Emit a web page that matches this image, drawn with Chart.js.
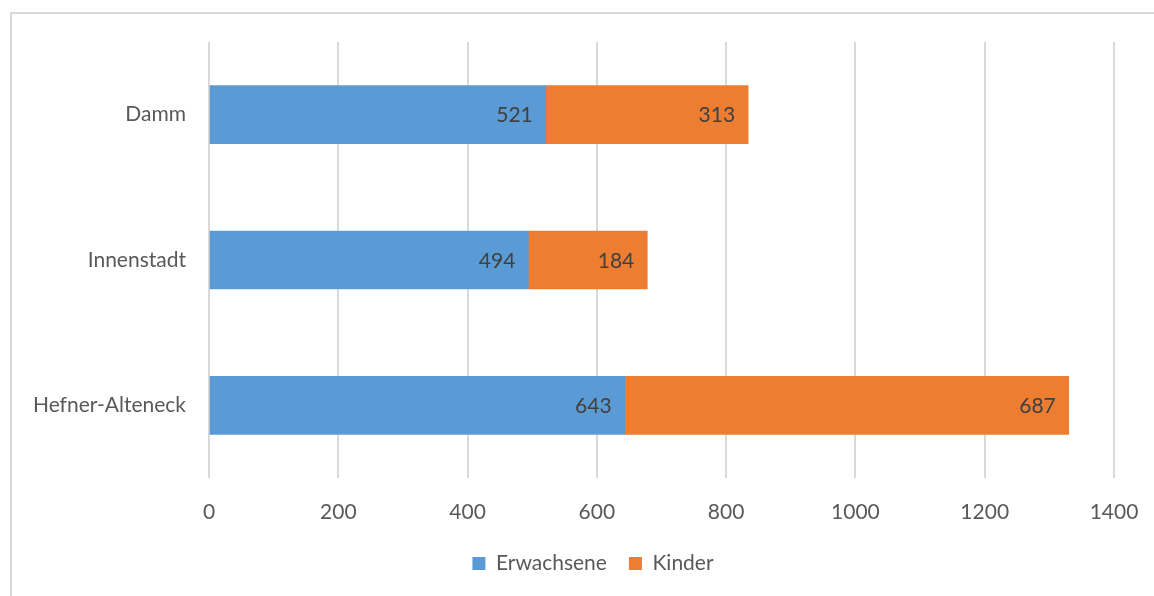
<!DOCTYPE html>
<html>
<head>
<meta charset="utf-8">
<script src="https://cdn.jsdelivr.net/npm/chart.js"></script>
<style>
  html, body { margin: 0; padding: 0; background: #fff; }
  #wrap { position: relative; width: 1154px; height: 596px; overflow: hidden; }
  #frame { position: absolute; left: 10px; top: 12px; width: 1160px; height: 600px;
           border-left: 2px solid #d9d9d9; border-top: 2px solid #d9d9d9; box-sizing: border-box; }
  canvas { position: absolute; left: 0; top: 0; }
</style>
</head>
<body>
<div id="wrap">
  <div id="frame"></div>
  <canvas id="Chart" width="1154" height="596"></canvas>
</div>
<script>
const categories = ['Damm', 'Innenstadt', 'Hefner-Alteneck'];
const erwachsene = [521, 494, 643];
const kinder = [313, 184, 687];
const xTicks = [0, 200, 400, 600, 800, 1000, 1200, 1400];

const FONT = 'Lato, "Open Sans", sans-serif';
const FSIZE = 21;

// Wertebeschriftungen innen am Balkenende
const barLabels = {
  id: 'barLabels',
  afterLayout(chart) {
    // Legende etwas nach rechts, wie im Original
    if (chart.legend) chart.legend.left = 72;
  },
  afterDatasetsDraw(chart) {
    const c = chart.ctx;
    c.save();
    c.font = FSIZE + 'px ' + FONT;
    c.fillStyle = '#404040';
    c.textAlign = 'right';
    c.textBaseline = 'middle';
    chart.data.datasets.forEach((ds, i) => {
      chart.getDatasetMeta(i).data.forEach((bar, j) => {
        c.fillText(String(ds.data[j]), bar.x - 13, bar.y + 1);
      });
    });
    c.restore();
  }
};

const ctx = document.getElementById('Chart').getContext('2d');
new Chart(ctx, {
  type: 'bar',
  data: {
    labels: categories,
    datasets: [
      { label: 'Erwachsene', data: erwachsene, backgroundColor: '#5B9BD5', barThickness: 58 },
      { label: 'Kinder', data: kinder, backgroundColor: '#ED7D31', barThickness: 58 }
    ]
  },
  options: {
    indexAxis: 'y',
    responsive: false,
    animation: false,
    layout: { padding: { top: 42, right: 40, left: 0, bottom: 12 } },
    scales: {
      x: {
        stacked: true,
        min: 0,
        max: 1400,
        afterBuildTicks(scale) { scale.ticks = xTicks.map(v => ({ value: v })); },
        grid: { color: '#d9d9d9', lineWidth: 2, drawTicks: false },
        border: { display: false },
        ticks: {
          padding: 22, color: '#595959', font: { family: FONT, size: FSIZE },
          callback: v => String(v)
        },
        afterFit(scale) { scale.height = 53; scale.paddingLeft = 0; scale.paddingRight = 0; }
      },
      y: {
        stacked: true,
        grid: { display: false },
        border: { display: false },
        ticks: { padding: 15, color: '#595959', font: { family: FONT, size: FSIZE } },
        afterFit(scale) { scale.width = 209; }
      }
    },
    plugins: {
      legend: {
        position: 'bottom',
        labels: {
          boxWidth: 13, boxHeight: 13, padding: 22,
          color: '#595959', font: { family: FONT, size: FSIZE }
        }
      },
      tooltip: { enabled: false }
    }
  },
  plugins: [barLabels]
});
</script>
</body>
</html>
